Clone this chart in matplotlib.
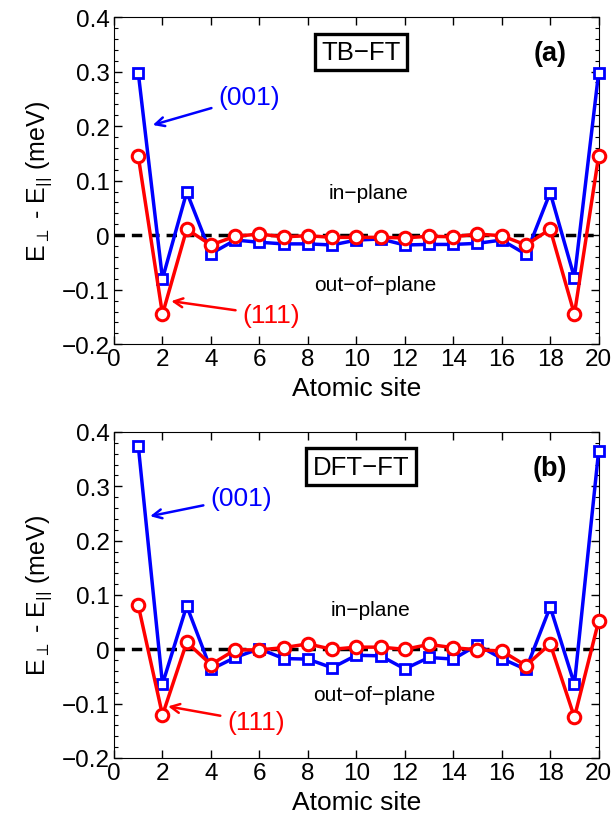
import numpy as np
import matplotlib.pyplot as plt
from matplotlib.ticker import MultipleLocator

plt.rcParams['font.family'] = ['Liberation Sans', 'DejaVu Sans']
plt.rcParams['mathtext.fontset'] = 'custom'
plt.rcParams['mathtext.rm'] = 'Liberation Sans'

sites = np.arange(1, 21)

# panel (a) TB-FT
tb_001 = [0.298, -0.080, 0.079, -0.034, -0.009, -0.013, -0.016, -0.016, -0.018, -0.009,
          -0.007, -0.018, -0.017, -0.017, -0.015, -0.009, -0.035, 0.078, -0.078, 0.298]
tb_111 = [0.145, -0.145, 0.011, -0.018, -0.002, 0.002, -0.003, -0.001, -0.004, -0.004,
          -0.004, -0.005, -0.002, -0.003, 0.002, -0.001, -0.018, 0.011, -0.145, 0.145]

# panel (b) DFT-FT
dft_001 = [0.375, -0.064, 0.080, -0.037, -0.015, 0.001, -0.017, -0.018, -0.034, -0.011,
           -0.012, -0.036, -0.015, -0.018, 0.008, -0.017, -0.037, 0.078, -0.064, 0.365]
dft_111 = [0.081, -0.121, 0.013, -0.028, -0.001, -0.001, 0.003, 0.010, 0.000, 0.004,
           0.004, 0.000, 0.009, 0.003, -0.001, -0.003, -0.030, 0.010, -0.125, 0.052]

yticks = [-0.2, -0.1, 0, 0.1, 0.2, 0.3, 0.4]
ytick_labels = ['\u22120.2', '\u22120.1', '0', '0.1', '0.2', '0.3', '0.4']

panels = [
    dict(b=tb_001, r=tb_111, box='TB\u2212FT', tag='(a)',
         ann_b=((1.6, 0.202), (4.3, 0.253)), ann_r=((2.36, -0.121), (5.3, -0.147)),
         inp=(10.5, 0.079), outp=(10.8, -0.09)),
    dict(b=dft_001, r=dft_111, box='DFT\u2212FT', tag='(b)',
         ann_b=((1.49, 0.245), (3.97, 0.279)), ann_r=((2.23, -0.105), (4.67, -0.134)),
         inp=(10.6, 0.074), outp=(10.75, -0.083)),
]

fig = plt.figure(figsize=(6.15, 8.2), dpi=100)
axes = [fig.add_axes([0.1854, 0.579, 0.788, 0.399]),
        fig.add_axes([0.1854, 0.0744, 0.788, 0.3976])]

for ax, p in zip(axes, panels):
    ax.axhline(0, color='k', ls='--', lw=2.5, dashes=(3, 2), zorder=1)
    ax.plot(sites, p['b'], '-s', color='#0000ff', lw=2.5, ms=7, mfc='white',
            mec='#0000ff', mew=2, zorder=3, clip_on=False)
    ax.plot(sites, p['r'], '-o', color='#ff0000', lw=2.5, ms=9, mfc='white',
            mec='#ff0000', mew=2.2, zorder=4, clip_on=False)

    ax.set_xlim(0, 20)
    ax.set_ylim(-0.2, 0.4)
    ax.xaxis.set_major_locator(MultipleLocator(2))
    ax.yaxis.set_minor_locator(MultipleLocator(0.02))
    ax.set_yticks(yticks)
    ax.set_yticklabels(ytick_labels)
    ax.tick_params(which='both', direction='in', top=True, right=True, labelsize=17.5)
    ax.tick_params(which='major', length=6, width=1, pad=3)
    ax.tick_params(which='minor', length=3, width=0.8)
    ax.set_xlabel('Atomic site', fontsize=19, labelpad=4)
    ax.set_ylabel(r'$\mathrm{E}_{\perp}$ - $\mathrm{E}_{||}$ (meV)', fontsize=18, labelpad=6)

    ax.text(10.2, 0.336, p['box'], fontsize=18.5, ha='center', va='center',
            bbox=dict(boxstyle='square,pad=0.25', fc='white', ec='k', lw=2.4))
    ax.text(18.0, 0.334, p['tag'], fontsize=19.5, fontweight='bold', ha='center', va='center')
    ax.text(*p['inp'], 'in\u2212plane', fontsize=15, ha='center', va='center')
    ax.text(*p['outp'], 'out\u2212of\u2212plane', fontsize=15, ha='center', va='center')

    (tip, txt) = p['ann_b']
    ax.annotate('(001)', xy=tip, xytext=txt, color='#0000ff', fontsize=19,
                ha='left', va='center',
                arrowprops=dict(arrowstyle='->', color='#0000ff', lw=1.8,
                                mutation_scale=16, shrinkA=3, shrinkB=0))
    (tip, txt) = p['ann_r']
    ax.annotate('(111)', xy=tip, xytext=txt, color='#ff0000', fontsize=19,
                ha='left', va='center',
                arrowprops=dict(arrowstyle='->', color='#ff0000', lw=1.8,
                                mutation_scale=16, shrinkA=3, shrinkB=0))

fig.savefig('out.png', dpi=100)
